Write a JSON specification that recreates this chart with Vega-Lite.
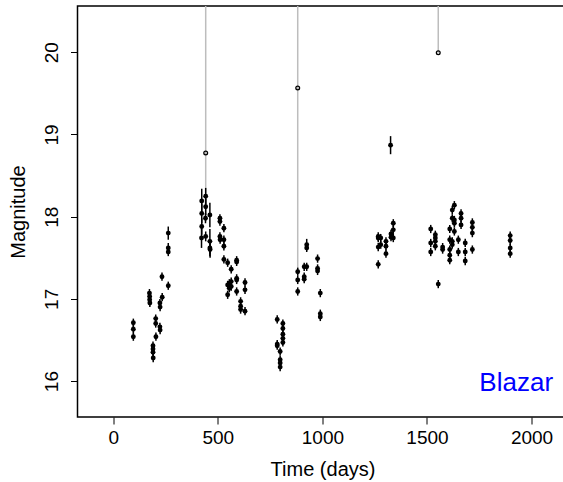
{
  "$schema": "https://vega.github.io/schema/vega-lite/v6.json",
  "width": 490,
  "height": 411,
  "autosize": {"type": "none"},
  "padding": {"left": 77.5, "top": 6, "right": 0, "bottom": 65},
  "config": {
    "view": {"stroke": "black", "strokeWidth": 1.5},
    "font": "Liberation Sans",
    "axis": {
      "domain": false, "grid": false, "ticks": true, "tickColor": "black", "tickSize": 7, "tickWidth": 1,
      "labelFont": "Liberation Sans", "labelFontSize": 19, "labelColor": "black",
      "titleFont": "Liberation Sans", "titleFontSize": 20, "titleFontWeight": "normal", "titleColor": "black"
    },
    "axisX": {"labelPadding": 4, "titlePadding": 12},
    "axisY": {"labelAngle": -90, "labelAlign": "center", "labelBaseline": "alphabetic", "labelPadding": 13, "titlePadding": 14}
  },
  "datasets": {
    "obs": [
      {"t": 96, "mag": 16.71, "err": 0.05}, {"t": 96, "mag": 16.63, "err": 0.05}, {"t": 96, "mag": 16.54, "err": 0.05},
      {"t": 173, "mag": 17.07, "err": 0.05}, {"t": 174, "mag": 17.03, "err": 0.05}, {"t": 174, "mag": 16.99, "err": 0.05}, {"t": 175, "mag": 16.95, "err": 0.05},
      {"t": 190, "mag": 16.43, "err": 0.05}, {"t": 190, "mag": 16.39, "err": 0.05}, {"t": 190, "mag": 16.35, "err": 0.05}, {"t": 191, "mag": 16.28, "err": 0.05},
      {"t": 203, "mag": 16.76, "err": 0.05}, {"t": 203, "mag": 16.70, "err": 0.05}, {"t": 204, "mag": 16.54, "err": 0.05},
      {"t": 223, "mag": 16.66, "err": 0.05}, {"t": 224, "mag": 16.62, "err": 0.05}, {"t": 223, "mag": 16.95, "err": 0.05}, {"t": 224, "mag": 16.90, "err": 0.05},
      {"t": 234, "mag": 17.02, "err": 0.05}, {"t": 233, "mag": 17.27, "err": 0.05},
      {"t": 263, "mag": 17.80, "err": 0.08}, {"t": 263, "mag": 17.62, "err": 0.06}, {"t": 263, "mag": 17.57, "err": 0.05}, {"t": 263, "mag": 17.16, "err": 0.05},
      {"t": 423, "mag": 18.19, "err": 0.15}, {"t": 423, "mag": 18.04, "err": 0.12}, {"t": 423, "mag": 17.88, "err": 0.1}, {"t": 422, "mag": 17.74, "err": 0.12},
      {"t": 442, "mag": 18.25, "err": 0.1}, {"t": 442, "mag": 18.12, "err": 0.1}, {"t": 441, "mag": 17.98, "err": 0.06}, {"t": 442, "mag": 17.76, "err": 0.06},
      {"t": 462, "mag": 18.02, "err": 0.15}, {"t": 462, "mag": 17.70, "err": 0.15}, {"t": 462, "mag": 17.62, "err": 0.1}, {"t": 463, "mag": 17.60, "err": 0.1},
      {"t": 510, "mag": 17.98, "err": 0.05}, {"t": 510, "mag": 17.94, "err": 0.05}, {"t": 510, "mag": 17.76, "err": 0.05}, {"t": 511, "mag": 17.72, "err": 0.05},
      {"t": 529, "mag": 17.86, "err": 0.05}, {"t": 529, "mag": 17.72, "err": 0.05}, {"t": 529, "mag": 17.64, "err": 0.05}, {"t": 529, "mag": 17.48, "err": 0.05},
      {"t": 547, "mag": 17.44, "err": 0.05}, {"t": 547, "mag": 17.17, "err": 0.05}, {"t": 547, "mag": 17.05, "err": 0.05},
      {"t": 564, "mag": 17.36, "err": 0.05}, {"t": 564, "mag": 17.21, "err": 0.05}, {"t": 564, "mag": 17.15, "err": 0.05},
      {"t": 555, "mag": 17.19, "err": 0.05}, {"t": 555, "mag": 17.13, "err": 0.05},
      {"t": 590, "mag": 17.47, "err": 0.05}, {"t": 590, "mag": 17.45, "err": 0.05}, {"t": 590, "mag": 17.25, "err": 0.05}, {"t": 590, "mag": 17.23, "err": 0.05}, {"t": 590, "mag": 17.09, "err": 0.05},
      {"t": 609, "mag": 16.97, "err": 0.05}, {"t": 609, "mag": 16.91, "err": 0.05}, {"t": 609, "mag": 16.87, "err": 0.05},
      {"t": 630, "mag": 17.20, "err": 0.05}, {"t": 630, "mag": 17.11, "err": 0.05}, {"t": 630, "mag": 16.85, "err": 0.05},
      {"t": 784, "mag": 16.75, "err": 0.05}, {"t": 784, "mag": 16.45, "err": 0.05}, {"t": 784, "mag": 16.43, "err": 0.05},
      {"t": 798, "mag": 16.36, "err": 0.05}, {"t": 798, "mag": 16.26, "err": 0.05}, {"t": 798, "mag": 16.22, "err": 0.05}, {"t": 798, "mag": 16.17, "err": 0.05},
      {"t": 811, "mag": 16.70, "err": 0.05}, {"t": 811, "mag": 16.64, "err": 0.05}, {"t": 811, "mag": 16.57, "err": 0.05}, {"t": 811, "mag": 16.52, "err": 0.05}, {"t": 811, "mag": 16.47, "err": 0.05},
      {"t": 882, "mag": 17.33, "err": 0.05}, {"t": 882, "mag": 17.23, "err": 0.05}, {"t": 882, "mag": 17.09, "err": 0.05},
      {"t": 913, "mag": 17.39, "err": 0.05}, {"t": 913, "mag": 17.27, "err": 0.05}, {"t": 913, "mag": 17.24, "err": 0.05},
      {"t": 925, "mag": 17.66, "err": 0.07}, {"t": 925, "mag": 17.62, "err": 0.05}, {"t": 925, "mag": 17.39, "err": 0.05},
      {"t": 977, "mag": 17.49, "err": 0.05}, {"t": 977, "mag": 17.37, "err": 0.05}, {"t": 977, "mag": 17.34, "err": 0.05},
      {"t": 990, "mag": 17.07, "err": 0.05}, {"t": 990, "mag": 16.82, "err": 0.05}, {"t": 990, "mag": 16.78, "err": 0.05},
      {"t": 1267, "mag": 17.76, "err": 0.05}, {"t": 1267, "mag": 17.74, "err": 0.05}, {"t": 1267, "mag": 17.63, "err": 0.05}, {"t": 1267, "mag": 17.42, "err": 0.05},
      {"t": 1279, "mag": 17.74, "err": 0.05}, {"t": 1279, "mag": 17.66, "err": 0.05},
      {"t": 1304, "mag": 17.70, "err": 0.05}, {"t": 1304, "mag": 17.64, "err": 0.05}, {"t": 1304, "mag": 17.55, "err": 0.05},
      {"t": 1326, "mag": 18.87, "err": 0.11},
      {"t": 1328, "mag": 17.79, "err": 0.05}, {"t": 1328, "mag": 17.75, "err": 0.05},
      {"t": 1339, "mag": 17.92, "err": 0.05}, {"t": 1339, "mag": 17.84, "err": 0.05}, {"t": 1339, "mag": 17.74, "err": 0.05},
      {"t": 1518, "mag": 17.85, "err": 0.05}, {"t": 1518, "mag": 17.68, "err": 0.05}, {"t": 1518, "mag": 17.57, "err": 0.05},
      {"t": 1540, "mag": 17.78, "err": 0.05}, {"t": 1540, "mag": 17.74, "err": 0.05}, {"t": 1540, "mag": 17.70, "err": 0.05}, {"t": 1540, "mag": 17.64, "err": 0.05},
      {"t": 1554, "mag": 17.18, "err": 0.05},
      {"t": 1575, "mag": 17.63, "err": 0.05}, {"t": 1575, "mag": 17.60, "err": 0.05},
      {"t": 1609, "mag": 17.85, "err": 0.05}, {"t": 1609, "mag": 17.72, "err": 0.05}, {"t": 1609, "mag": 17.60, "err": 0.05}, {"t": 1609, "mag": 17.53, "err": 0.05}, {"t": 1609, "mag": 17.47, "err": 0.05},
      {"t": 1621, "mag": 18.08, "err": 0.05}, {"t": 1621, "mag": 17.98, "err": 0.05}, {"t": 1621, "mag": 17.70, "err": 0.05}, {"t": 1621, "mag": 17.66, "err": 0.05},
      {"t": 1631, "mag": 18.14, "err": 0.05}, {"t": 1631, "mag": 17.96, "err": 0.05}, {"t": 1631, "mag": 17.92, "err": 0.05}, {"t": 1631, "mag": 17.82, "err": 0.05},
      {"t": 1650, "mag": 17.72, "err": 0.05}, {"t": 1650, "mag": 17.57, "err": 0.05},
      {"t": 1663, "mag": 18.04, "err": 0.05}, {"t": 1663, "mag": 17.98, "err": 0.05}, {"t": 1663, "mag": 17.90, "err": 0.05},
      {"t": 1683, "mag": 17.68, "err": 0.05}, {"t": 1683, "mag": 17.57, "err": 0.05}, {"t": 1683, "mag": 17.46, "err": 0.05},
      {"t": 1717, "mag": 17.93, "err": 0.05}, {"t": 1717, "mag": 17.87, "err": 0.05}, {"t": 1717, "mag": 17.80, "err": 0.05}, {"t": 1717, "mag": 17.60, "err": 0.05},
      {"t": 1898, "mag": 17.77, "err": 0.05}, {"t": 1898, "mag": 17.71, "err": 0.05}, {"t": 1898, "mag": 17.62, "err": 0.05}, {"t": 1898, "mag": 17.55, "err": 0.05}
    ],
    "greyline": [
      {"t": 442, "mag": 17.94},
      {"t": 882, "mag": 17.33},
      {"t": 1554, "mag": 19.995}
    ],
    "greypt": [
      {"t": 442, "mag": 18.775},
      {"t": 882, "mag": 19.566},
      {"t": 1554, "mag": 19.995}
    ],
    "label": [
      {"t": 2103, "mag": 15.883, "text": "Blazar"}
    ]
  },
  "encoding": {
    "x": {"field": "t", "type": "quantitative", "scale": {"domain": [-171, 2172], "nice": false, "zero": false},
          "axis": {"values": [0, 500, 1000, 1500, 2000], "format": "d", "title": "Time (days)"}},
    "y": {"field": "mag", "type": "quantitative", "scale": {"domain": [15.563, 20.563], "nice": false, "zero": false},
          "axis": {"values": [16, 17, 18, 19, 20], "format": "d", "title": "Magnitude"}}
  },
  "layer": [
    {"data": {"name": "greyline"}, "mark": {"type": "rule", "color": "#bdbdbd", "strokeWidth": 1.5, "clip": true},
     "encoding": {"y2": {"datum": 20.563}}},
    {"data": {"name": "obs"}, "mark": {"type": "errorbar", "color": "black", "thickness": 1.5, "ticks": false},
     "encoding": {"yError": {"field": "err"}}},
    {"data": {"name": "obs"}, "mark": {"type": "circle", "color": "black", "size": 24, "opacity": 1}},
    {"data": {"name": "greypt"}, "mark": {"type": "point", "shape": "circle", "color": "black", "size": 14, "strokeWidth": 1.3, "filled": false, "opacity": 1}},
    {"data": {"name": "label"}, "mark": {"type": "text", "color": "#0000ff", "fontSize": 26, "font": "Liberation Sans", "align": "right", "baseline": "alphabetic"},
     "encoding": {"text": {"field": "text", "type": "nominal"}}}
  ]
}
